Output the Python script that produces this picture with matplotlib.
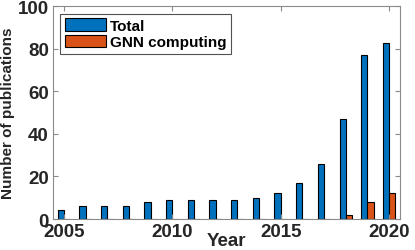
import matplotlib
matplotlib.use("Agg")
import matplotlib.pyplot as plt
import numpy as np

years = [2005, 2006, 2007, 2008, 2009, 2010, 2011, 2012, 2013, 2014, 2015, 2016, 2017, 2018, 2019, 2020]
total = [4, 6, 6, 6, 8, 9, 9, 9, 9, 10, 12, 17, 26, 47, 77, 83]
gnn = [0, 0, 0, 0, 0, 0, 0, 0, 0, 0, 0, 0, 0, 2, 8, 12]
series_labels = ["Total", "GNN computing"]
xticks = [2005, 2010, 2015, 2020]
yticks = [0, 20, 40, 60, 80, 100]

plt.rcParams['font.family'] = ['Liberation Sans', 'DejaVu Sans']
axcol = '#8a8a8a'
txtcol = '#262626'

fig = plt.figure(figsize=(4.15, 2.51), dpi=100)
ax = fig.add_axes([0.1277, 0.1235, 0.836, 0.847])

x = np.array(years, dtype=float)
w = 0.286
ax.bar(x - w/2, total, width=w, color='#0072BD', edgecolor='black', linewidth=0.8, label=series_labels[0])
ax.bar(x + w/2, gnn, width=w, color='#D95319', edgecolor='black', linewidth=0.8, label=series_labels[1])

ax.set_xlim(2004.5, 2020.5)
ax.set_ylim(0, 100)
ax.set_xticks(xticks)
ax.set_yticks(yticks)
ax.tick_params(direction='in', length=3.5, width=0.8, top=True, right=True,
               colors=axcol, labelcolor=txtcol, labelsize=13.5, pad=3)
for lab in ax.get_xticklabels() + ax.get_yticklabels():
    lab.set_fontweight('bold')
for s in ax.spines.values():
    s.set_color(axcol)
    s.set_linewidth(0.8)

ax.set_xlabel('Year', fontsize=13.5, fontweight='bold', color=txtcol, labelpad=-6)
ax.set_ylabel('Number of publications', fontsize=11.0, fontweight='bold',
              color=txtcol, labelpad=2)

leg = ax.legend(loc='upper left', bbox_to_anchor=(0.02, 0.965),
                prop={'size': 11, 'weight': 'bold'},
                frameon=True, fancybox=False, handlelength=2.7, handleheight=0.85,
                handletextpad=0.3, borderpad=0.3, labelspacing=0.15, borderaxespad=0)
leg.get_frame().set_edgecolor('#262626')
leg.get_frame().set_linewidth(0.8)
for t in leg.get_texts():
    t.set_color('black')

fig.savefig('out.png', dpi=100)
